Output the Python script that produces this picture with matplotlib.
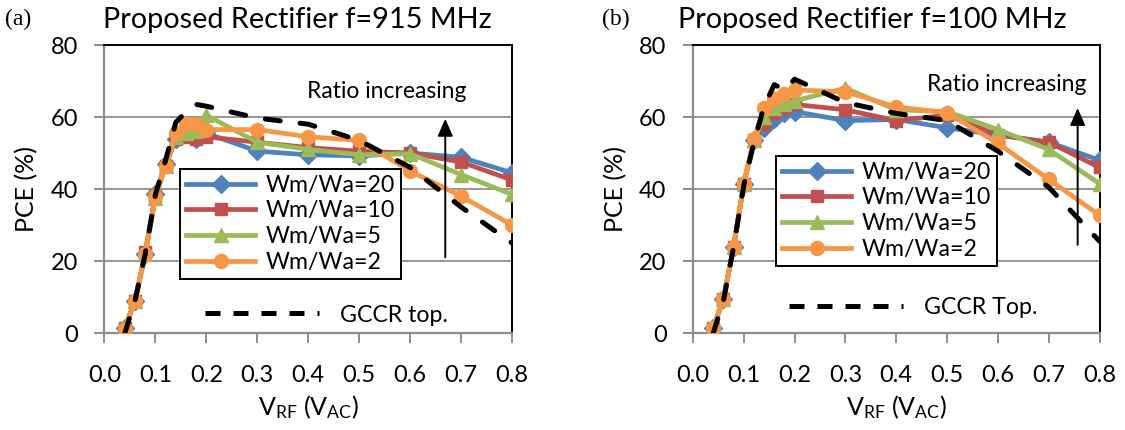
import matplotlib
matplotlib.use("Agg")
import matplotlib.pyplot as plt
from matplotlib.lines import Line2D

plt.rcParams["font.family"] = ["Lato", "DejaVu Sans"]
plt.rcParams["mathtext.default"] = "regular"

# RF input amplitude (V)
v_rf = [0.04, 0.06, 0.08, 0.10, 0.12, 0.14, 0.16, 0.18, 0.20, 0.30, 0.40, 0.50, 0.60, 0.70, 0.80]

# PCE (%) at f = 915 MHz
pce915_r20 = [1.5, 9, 22, 38.5, 47, 54, 55.5, 54, 55.5, 50.5, 49.5, 49.2, 50, 48.8, 44.5]
pce915_r10 = [1.5, 9, 22.5, 38, 46.5, 54, 54.5, 54, 54.5, 53, 51.5, 50.5, 50, 47.5, 42.5]
pce915_r5 = [1.5, 9, 22, 37.5, 46.5, 54.5, 55.5, 56, 60.5, 53, 51, 49.5, 49.8, 44, 38.5]
pce915_r2 = [1, 9, 22, 38, 46.5, 55.5, 58, 58, 56.5, 56.5, 54.5, 53.5, 45, 38, 30]
pce915_gccr = [0, 9, 22, 38.5, 48, 58.5, 61.5, 63.5, 63, 59.7, 58, 53.5, 46, 35, 25]

# PCE (%) at f = 100 MHz
pce100_r20 = [1.5, 9.5, 24, 41.5, 53.5, 57, 59.5, 61, 61.5, 59, 59.3, 57, 55, 53, 48]
pce100_r10 = [1.5, 9.5, 24, 41.5, 53.5, 58, 61, 62.5, 63.5, 62, 59, 60.5, 55, 53, 46]
pce100_r5 = [1.5, 9.5, 24, 41.5, 53.5, 60, 62.5, 63.5, 64.5, 68, 62, 61.5, 56.5, 51, 41.5]
pce100_r2 = [1.5, 9.5, 24, 41.5, 54, 62.5, 65, 66.5, 67.5, 67, 62.8, 61.2, 52.7, 42.7, 32.7]
pce100_gccr = [0, 9, 24, 41, 53, 63, 69, 67.5, 70.5, 64, 61, 59, 50.5, 40.5, 25.5]

ratio_labels = ["Wm/Wa=20", "Wm/Wa=10", "Wm/Wa=5", "Wm/Wa=2"]
colors = ["#4F81BD", "#C0504D", "#9BBB59", "#F79646"]
markers = ["D", "s", "^", "o"]
msizes = [9, 9, 10, 10]

x_ticks = [0.0, 0.1, 0.2, 0.3, 0.4, 0.5, 0.6, 0.7, 0.8]
y_ticks = [0, 20, 40, 60, 80]

GRID = "#8C8C8C"
FS = 17

fig = plt.figure(figsize=(11.25, 4.30), dpi=100)
W, H = 1125.0, 430.0


def px_axes(x0, x1, ytop, ybot):
    return fig.add_axes([x0 / W, 1 - ybot / H, (x1 - x0) / W, (ybot - ytop) / H])


panels = [
    dict(ax=px_axes(104.5, 512, 45, 333),
         series=[pce915_r20, pce915_r10, pce915_r5, pce915_r2], gccr=pce915_gccr,
         gccr_label="GCCR top.", tag="(a)", tag_x=5,
         title="Proposed Rectifier f=915 MHz", title_x=103,
         arrow_x=0.669, arrow_y=(21, 59.5), text_xy=(0.554, 67),
         leg_xy=(180, 169), gleg_xy=(205, 315)),
    dict(ax=px_axes(693, 1099.5, 45, 333),
         series=[pce100_r20, pce100_r10, pce100_r5, pce100_r2], gccr=pce100_gccr,
         gccr_label="GCCR Top.", tag="(b)", tag_x=602,
         title="Proposed Rectifier f=100 MHz", title_x=678,
         arrow_x=0.757, arrow_y=(24.5, 62.5), text_xy=(0.617, 69),
         leg_xy=(776, 156), gleg_xy=(789, 308)),
]

for p in panels:
    ax = p["ax"]
    handles = []
    for vals, lab, c, m, ms in zip(p["series"], ratio_labels, colors, markers, msizes):
        h, = ax.plot(v_rf, vals, color=c, lw=3.4, marker=m, ms=ms,
                     markeredgecolor=c, label=lab, zorder=3)
        handles.append(h)
    ax.plot(v_rf, p["gccr"], color="black", lw=3.6, dashes=(3, 4),
            dash_capstyle="round", zorder=4)

    ax.set_xlim(0, 0.8)
    ax.set_ylim(0, 80)
    ax.set_xticks(x_ticks)
    ax.set_xticklabels([f"{t:.1f}" for t in x_ticks])
    ax.set_yticks(y_ticks)
    ax.yaxis.grid(True, color=GRID, lw=1.3)
    ax.set_axisbelow(True)
    for s in ("top", "right"):
        ax.spines[s].set_color("black")
        ax.spines[s].set_linewidth(1.4)
    for s in ("left", "bottom"):
        ax.spines[s].set_color(GRID)
        ax.spines[s].set_linewidth(1.6)
    ax.tick_params(axis="x", direction="out", length=7, width=1.4, color=GRID,
                   pad=16, labelsize=FS)
    ax.tick_params(axis="y", direction="out", length=7, width=1.4, color=GRID,
                   pad=12, labelsize=FS)

    ax.set_xlabel(r"V$_{RF}$ (V$_{AC}$)", fontsize=FS + 1)
    ax.xaxis.set_label_coords(0.5, -(407 - 333) / 288)
    ax.xaxis.label.set_va("center")
    ax.set_ylabel("PCE (%)", fontsize=FS + 1)
    ax.yaxis.set_label_coords(-(104.5 - 27) / 407.5, 0.5)
    ax.yaxis.label.set_va("center")

    # arrow showing the trend with increasing Wm/Wa
    ax.annotate("", xy=(p["arrow_x"], p["arrow_y"][1]), xytext=(p["arrow_x"], p["arrow_y"][0]),
                arrowprops=dict(arrowstyle="-|>,head_length=0.5,head_width=0.22",
                                color="black", lw=1.4, mutation_scale=21,
                                shrinkA=0, shrinkB=0), zorder=5)
    ax.text(p["text_xy"][0], p["text_xy"][1], "Ratio increasing", ha="center",
            va="center", fontsize=FS - 0.5, zorder=5)

    lx, ly = p["leg_xy"]
    leg = ax.legend(handles=handles, loc="upper left",
                    bbox_to_anchor=(lx / W, 1 - ly / H), bbox_transform=fig.transFigure,
                    fontsize=FS - 0.3, frameon=True, fancybox=False, framealpha=1,
                    edgecolor="black", borderaxespad=0, borderpad=0.25,
                    labelspacing=0.2, handlelength=3.0, handletextpad=0.45)
    leg.get_frame().set_linewidth(1.4)
    leg.set_zorder(6)
    ax.add_artist(leg)

    gx, gy = p["gleg_xy"]
    gh = Line2D([], [], color="black", lw=3.6, dashes=(3, 2.6), dash_capstyle="butt")
    ax.legend(handles=[gh], labels=[p["gccr_label"]], loc="center left",
              bbox_to_anchor=(gx / W, 1 - gy / H), bbox_transform=fig.transFigure,
              fontsize=FS - 0.3, frameon=False, borderaxespad=0, borderpad=0,
              handlelength=4.9, handletextpad=0.9)

    fig.text(p["title_x"] / W, 1 - 28 / H, p["title"], ha="left", va="baseline",
             fontsize=20.8)
    fig.text(p["tag_x"] / W, 1 - 25 / H, p["tag"], ha="left", va="baseline",
             fontsize=17, family="Liberation Serif")

fig.savefig("out.png", dpi=100)
